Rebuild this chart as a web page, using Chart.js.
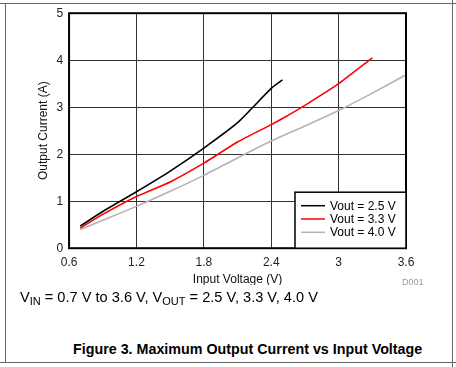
<!DOCTYPE html>
<html>
<head>
<meta charset="utf-8">
<script src="https://cdn.jsdelivr.net/npm/chart.js@4.4.1/dist/chart.umd.min.js"></script>
<style>
    html, body { margin: 0; padding: 0; background: #fff; }
    body { width: 456px; height: 367px; position: relative; overflow: hidden; font-family: "Liberation Sans", Arial, sans-serif; }
    .frame-h { position: absolute; left: 0; width: 456px; height: 1px; background: #666; }
    .frame-v { position: absolute; top: 0; width: 1px; height: 367px; background: #666; }
    #chart { position: absolute; left: 0; top: 0; }
    .note { position: absolute; color: #000; white-space: nowrap; }
    .note sub { font-size: 11px; vertical-align: -3px; }
</style>
</head>
<body>
<div class="frame-h" style="top:3px"></div>
<div class="frame-h" style="top:362px"></div>
<div class="frame-v" style="left:5px; top:3px; height:360px"></div>
<div class="frame-v" style="left:452px"></div>

<canvas id="chart" width="456" height="285"></canvas>

<div class="note" style="left:402px; top:277px; font-size:9px; color:#999">D001</div>
<div class="note" style="left:20px; top:289px; font-size:14.6px">V<sub>IN</sub> = 0.7 V to 3.6 V, V<sub>OUT</sub> = 2.5 V, 3.3 V, 4.0 V</div>
<div class="note" style="left:73px; top:341px; font-size:14.3px; font-weight:bold">Figure 3. Maximum Output Current vs Input Voltage</div>

<script>
// values
const vin25 = [0.7, 0.9, 1.2, 1.5, 1.8, 2.1, 2.4, 2.5]
const iout25 = [0.47, 0.78, 1.2, 1.64, 2.13, 2.67, 3.4, 3.58]

const vin33 = [0.7, 0.9, 1.2, 1.5, 1.8, 2.1, 2.4, 2.5, 2.7, 3.0, 3.3]
const iout33 = [0.43, 0.72, 1.1, 1.41, 1.81, 2.26, 2.63, 2.76, 3.04, 3.5, 4.05]

const vin40 = [0.7, 1.2, 1.5, 1.8, 2.1, 2.4, 2.7, 3.0, 3.3, 3.6]
const iout40 = [0.4, 0.89, 1.21, 1.55, 1.92, 2.28, 2.6, 2.93, 3.3, 3.69]

const seriesLabels = ['Vout = 2.5 V', 'Vout = 3.3 V', 'Vout = 4.0 V']
const xTicks = [0.6, 1.2, 1.8, 2.4, 3.0, 3.6]
const yTicks = [0, 1, 2, 3, 4, 5]

const toPoints = (xs, ys) => xs.map((x, i) => ({ x: x, y: ys[i] }))

const frameAndLegend = {
    id: 'frameAndLegend',
    afterDatasetsDraw: function (chart) {
        const ctx = chart.ctx
        const a = chart.chartArea
        ctx.save()
        // plot frame
        ctx.strokeStyle = '#000'
        ctx.lineWidth = 2
        ctx.strokeRect(a.left, a.top, a.right - a.left, a.bottom - a.top)

        // legend box in lower right corner
        const w = 111, h = 56
        const lx = a.right - w, ly = a.bottom - h
        ctx.fillStyle = '#fff'
        ctx.fillRect(lx, ly, w, h)
        ctx.lineWidth = 1.5
        ctx.strokeRect(lx, ly, w, h)
        ctx.font = '12px "Liberation Sans", Arial, sans-serif'
        ctx.textBaseline = 'middle'
        chart.data.datasets.forEach(function (ds, i) {
            const yy = ly + 13.5 + i * 13.3
            ctx.strokeStyle = ds.borderColor
            ctx.lineWidth = 1.5
            ctx.beginPath()
            ctx.moveTo(lx + 6, yy)
            ctx.lineTo(lx + 30, yy)
            ctx.stroke()
            ctx.fillStyle = '#000'
            ctx.fillText(ds.label, lx + 35, yy + 0.5)
        })
        ctx.restore()
    }
}

const ctx = document.getElementById('chart')
const chart = new Chart(ctx, {
    type: 'line',
    data: {
        datasets: [
            { label: seriesLabels[0], data: toPoints(vin25, iout25), borderColor: '#000000', borderWidth: 1.6 },
            { label: seriesLabels[1], data: toPoints(vin33, iout33), borderColor: '#ff0000', borderWidth: 1.6 },
            { label: seriesLabels[2], data: toPoints(vin40, iout40), borderColor: '#b4b4b4', borderWidth: 1.6 }
        ]
    },
    options: {
        responsive: false,
        animation: false,
        devicePixelRatio: 1,
        elements: { point: { radius: 0 }, line: { tension: 0.2, fill: false } },
        layout: { padding: { left: 36, top: 11, right: 50, bottom: 0 } },
        plugins: { legend: { display: false }, tooltip: { enabled: false } },
        scales: {
            x: {
                type: 'linear',
                min: xTicks[0],
                max: xTicks[xTicks.length - 1],
                afterBuildTicks: function (axis) { axis.ticks = xTicks.map(v => ({ value: v })) },
                ticks: {
                    color: '#222',
                    padding: 7,
                    maxRotation: 0,
                    font: { size: 12, family: '"Liberation Sans", Arial, sans-serif' },
                    callback: function (v) { return String(Math.round(v * 10) / 10) }
                },
                grid: { color: '#333', lineWidth: 1, drawTicks: false },
                border: { display: false },
                title: {
                    display: true,
                    text: 'Input Voltage (V)',
                    color: '#111',
                    padding: { top: -4, bottom: -2 },
                    font: { size: 12, family: '"Liberation Sans", Arial, sans-serif' }
                }
            },
            y: {
                min: yTicks[0],
                max: yTicks[yTicks.length - 1],
                afterBuildTicks: function (axis) { axis.ticks = yTicks.map(v => ({ value: v })) },
                ticks: {
                    color: '#222',
                    padding: 6,
                    font: { size: 12, family: '"Liberation Sans", Arial, sans-serif' }
                },
                grid: { color: '#333', lineWidth: 1, drawTicks: false },
                border: { display: false },
                title: {
                    display: true,
                    text: 'Output Current (A)',
                    color: '#111',
                    padding: { top: 0, bottom: 0 },
                    font: { size: 12, family: '"Liberation Sans", Arial, sans-serif' }
                }
            }
        }
    },
    plugins: [frameAndLegend]
})
</script>
</body>
</html>
